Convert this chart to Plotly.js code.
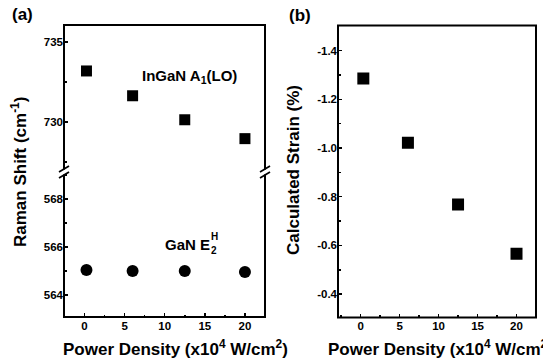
<!DOCTYPE html>
<html>
<head>
<meta charset="utf-8">
<script src="https://cdn.plot.ly/plotly-3.0.1.min.js"></script>
<style>body{margin:0;padding:0;background:#fff}#plot{width:543px;height:360px}</style>
</head>
<body>
<div id="plot"></div>
<script>
// ---- data ----
const powerDensity = [0.25, 6, 12.5, 20];
const ingaNA1LO = [733.19, 731.64, 730.14, 728.96];
const ganE2H = [565.04, 565.0, 565.0, 564.96];
const strainX = [0.35, 6.07, 12.5, 20];
const strain = [-1.285, -1.022, -0.768, -0.566];
const xTicks = [0, 5, 10, 15, 20];
const upperTicks = [730, 735];
const lowerTicks = [564, 566, 568];
const strainTicks = [-1.4, -1.2, -1.0, -0.8, -0.6, -0.4];
const strainTickText = ['-1.4', '-1.2', '-1.0', '-0.8', '-0.6', '-0.4'];

const W = 543, H = 360;
const px = v => v / W, py = v => 1 - v / H;

const FONT = 'Liberation Sans, Arial, sans-serif';
const tickFont = {family: FONT, size: 11.5, color: '#000', weight: 'bold'};
const axBase = {
  showline: false, zeroline: false, showgrid: false,
  ticks: 'inside', ticklen: 4, tickwidth: 1.5, tickcolor: '#000',
  tickfont: tickFont
};

const aL = 64, aR = 265, aT = 25, aB = 317, aBreak = 172;
const bL = 338, bR = 536, bT = 25.5, bB = 317.5;

const traces = [
  {x: powerDensity, y: ingaNA1LO, xaxis: 'x', yaxis: 'y2', mode: 'markers',
   marker: {symbol: 'square', size: 11, color: '#000'}},
  {x: powerDensity, y: ganE2H, xaxis: 'x', yaxis: 'y', mode: 'markers',
   marker: {symbol: 'circle', size: 12, color: '#000'}},
  {x: strainX, y: strain, xaxis: 'x2', yaxis: 'y3', mode: 'markers',
   marker: {symbol: 'square', size: 12, color: '#000'}}
];

const layout = {
  width: W, height: H,
  margin: {l: 0, r: 0, t: 0, b: 0},
  paper_bgcolor: '#fff', plot_bgcolor: '#fff',
  showlegend: false,
  xaxis: Object.assign({}, axBase, {
    domain: [px(aL), px(aR)], anchor: 'y', range: [-2.55, 22.5],
    tickvals: xTicks, minor: {ticks: 'inside', dtick: 2.5, tick0: 0, ticklen: 2.5, tickwidth: 1.5, tickcolor: '#000'}
  }),
  yaxis: Object.assign({}, axBase, {
    domain: [py(aB), py(aBreak)], anchor: 'x',
    range: [564 - (aB - 295) / 24, 568 + (199 - aBreak) / 24],
    tickvals: lowerTicks, minor: {ticks: 'inside', dtick: 1, tick0: 0, ticklen: 2.5, tickwidth: 1.5, tickcolor: '#000'}
  }),
  yaxis2: Object.assign({}, axBase, {
    domain: [py(aBreak), py(aT)], anchor: 'x',
    range: [735 - (aBreak - 42) / 16, 735 + (42 - aT) / 16],
    tickvals: upperTicks, minor: {ticks: 'inside', dtick: 2.5, tick0: 0, ticklen: 2.5, tickwidth: 1.5, tickcolor: '#000'}
  }),
  xaxis2: Object.assign({}, axBase, {
    domain: [px(bL), px(bR)], anchor: 'y3', range: [-2.9, 22.5],
    tickvals: xTicks, minor: {ticks: 'inside', dtick: 2.5, tick0: 0, ticklen: 2.5, tickwidth: 1.5, tickcolor: '#000'}
  }),
  yaxis3: Object.assign({}, axBase, {
    domain: [py(bB), py(bT)], anchor: 'x2',
    range: [-0.304, -1.503],
    tickvals: strainTicks, ticktext: strainTickText,
    minor: {ticks: 'inside', dtick: 0.1, tick0: 0, ticklen: 2.5, tickwidth: 1.5, tickcolor: '#000'}
  }),
  shapes: [
    {type: 'rect', xref: 'paper', yref: 'paper', x0: px(aL), x1: px(aR), y0: py(aB), y1: py(aT), line: {color: '#000', width: 2}},
    {type: 'rect', xref: 'paper', yref: 'paper', x0: px(bL), x1: px(bR), y0: py(bB), y1: py(bT), line: {color: '#000', width: 2}},
  ],
  annotations: []
};

// break marks on both sides of panel (a)
[aL, aR].forEach(xc => {
  layout.shapes.push({type: 'rect', xref: 'paper', yref: 'paper', x0: px(xc - 2), x1: px(xc + 2), y0: py(aBreak + 2.5), y1: py(aBreak - 2.5), fillcolor: '#fff', line: {width: 0}});
  [aBreak - 3, aBreak + 3].forEach(yc => {
    layout.shapes.push({type: 'line', xref: 'paper', yref: 'paper', x0: px(xc - 5), x1: px(xc + 5), y0: py(yc + 3), y1: py(yc - 3), line: {color: '#000', width: 1.8}});
  });
});

const titleFont = {family: FONT, size: 17, color: '#000', weight: 'bold'};
const ann = (x, y, text, opts) => Object.assign({xref: 'paper', yref: 'paper', x: px(x), y: py(y), text: text, showarrow: false, font: titleFont, xanchor: 'center', yanchor: 'middle'}, opts || {});
layout.annotations.push(
  ann(22, 15, '(a)', {font: Object.assign({}, titleFont, {size: 17})}),
  ann(300, 16, '(b)', {font: Object.assign({}, titleFont, {size: 17})}),
  ann(175, 348, 'Power Density (x10<sup>4</sup> W/cm<sup>2</sup>)'),
  ann(440, 348, 'Power Density (x10<sup>4</sup> W/cm<sup>2</sup>)'),
  ann(19, 172, 'Raman Shift (cm<sup>-1</sup>)', {textangle: -90}),
  ann(293, 170, 'Calculated Strain (%)', {textangle: -90}),
  ann(140, 76, 'InGaN A<sub>1</sub>(LO)', {xanchor: 'left', font: Object.assign({}, titleFont, {size: 15})}),
  ann(163, 244, 'GaN E', {xanchor: 'left', font: Object.assign({}, titleFont, {size: 15})}),
  ann(209, 236, 'H', {xanchor: 'left', font: Object.assign({}, titleFont, {size: 10})}),
  ann(209, 250, '2', {xanchor: 'left', font: Object.assign({}, titleFont, {size: 10})})
);

Plotly.newPlot('plot', traces, layout, {staticPlot: true, displayModeBar: false});
</script>
</body>
</html>
